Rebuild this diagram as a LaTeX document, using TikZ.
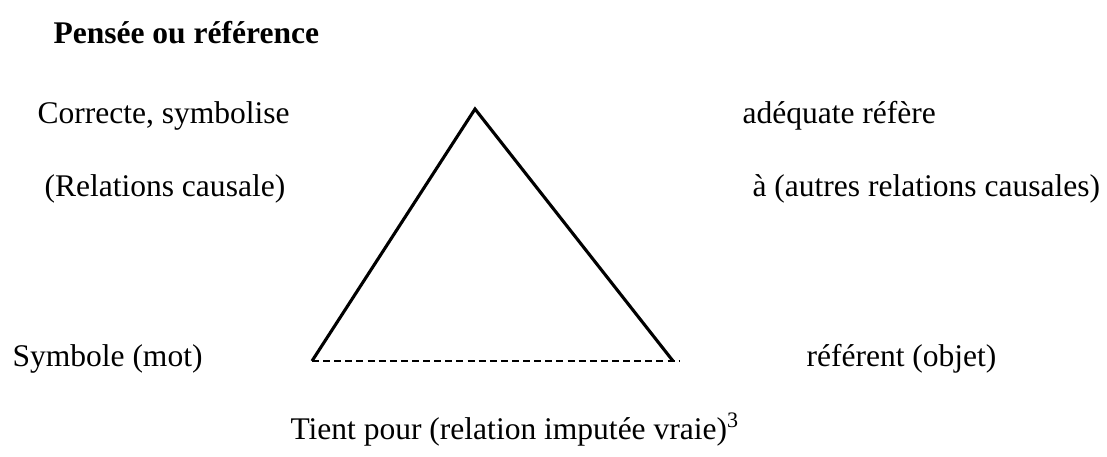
\documentclass[tikz,border=0pt]{standalone}
\usepackage{fontspec}
\setmainfont{Liberation Serif}

\begin{document}
\begin{tikzpicture}[
    x=0.387pt, y=-0.387pt,
    every node/.style = {inner sep=0pt, anchor=base west, font=\fontsize{12.2}{14}\selectfont},
    title/.style = {font=\fontsize{12.2}{14}\selectfont\bfseries},
    side/.style  = {line width=1.2pt, line join=miter},
    base/.style  = {line width=0.6pt, dash pattern=on 2.7pt off 1.6pt}
]
\useasboundingbox (0,0) rectangle (1107,456);

% title
\node[title] (titre) at (53,43) {Pensée ou référence};

% corners of the triangle
\coordinate (pensee)   at (475,109);
\coordinate (symbole)  at (312,361);
\coordinate (referent) at (673,361);
\coordinate (bout)     at (680,361);

% labels on the left side
\node (correcte) at (37,123)  {Correcte, symbolise};
\node (causale)  at (44,196)  {(Relations causale)};
\node (mot)      at (12,366)  {Symbole (mot)};

% labels on the right side
\node (adequate) at (742,123) {adéquate réfère};
\node (autres)   at (752,196) {à (autres relations causales)};
\node (objet)    at (806,366) {référent (objet)};

% label under the base
\node (tient) at (290,439) {Tient pour (relation imputée vraie)\textsuperscript{3}};

% sides and base
\draw[side] (symbole) -- (pensee) -- (referent);
\draw[base] (symbole) -- (bout);

\end{tikzpicture}
\end{document}
